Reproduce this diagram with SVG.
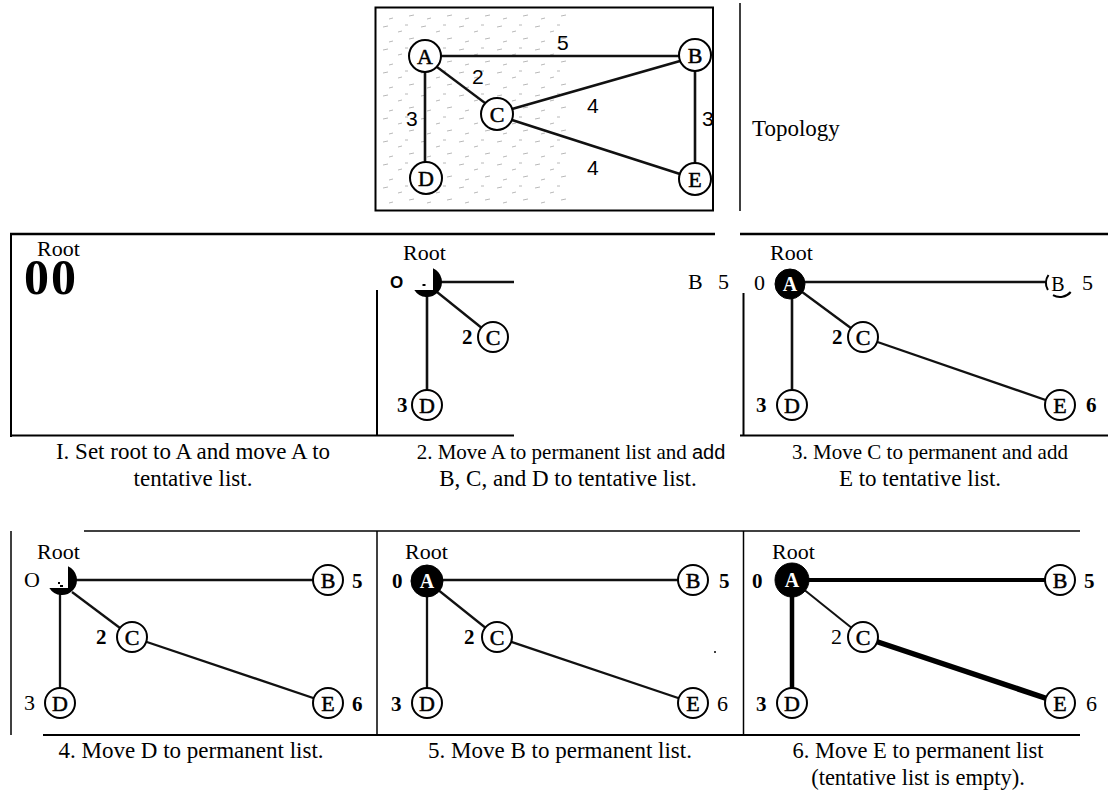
<svg xmlns="http://www.w3.org/2000/svg" width="1108" height="790" viewBox="0 0 1108 790">
<style>
.frame{stroke:#000;stroke-width:2;fill:none}
.thin{stroke:#000;stroke-width:1.5;fill:none}
.edge{stroke:#111;stroke-width:2.3;fill:none}
.thick{stroke:#000;stroke-width:4.5;fill:none}
.node circle{fill:#fff;stroke:#000;stroke-width:2}
.blk circle{fill:#000;stroke:#000;stroke-width:1}
.nl{font-family:"Liberation Serif",serif;font-size:22px;text-anchor:middle;fill:#000;stroke:#000;stroke-width:0.5}
.wl{font-family:"Liberation Serif",serif;font-size:20px;font-weight:bold;text-anchor:middle;fill:#fff}
.t{font-family:"Liberation Serif",serif;font-size:22px;fill:#000}
.cap{font-family:"Liberation Serif",serif;font-size:23px;text-anchor:middle;fill:#000}
.b{font-family:"Liberation Serif",serif;font-size:21px;font-weight:bold;fill:#000}
.r{font-family:"Liberation Serif",serif;font-size:22px;fill:#000}
.s{font-family:"Liberation Sans",sans-serif;font-size:21px;fill:#000}
</style>
<defs>
<pattern id="dust" width="38" height="23" patternUnits="userSpaceOnUse">
<g stroke="#9a9a9a" stroke-width="1">
<line x1="3" y1="4" x2="8" y2="3"/><line x1="18" y1="9" x2="22" y2="8"/><line x1="29" y1="16" x2="34" y2="15"/><line x1="9" y1="19" x2="13" y2="18"/><line x1="25" y1="2" x2="28" y2="2"/>
</g>
</pattern>
</defs>

<!-- Topology panel -->
<g id="topology-frame">
<rect x="382" y="10" width="190" height="196" fill="url(#dust)" opacity="0.7"/>
<rect x="375.5" y="7.5" width="337.5" height="203" class="frame"/>
<line x1="740" y1="3" x2="740" y2="211" class="thin"/>
<text class="t" x="752" y="136" style="font-size:23px">Topology</text>
</g>

<!-- Frames of step panels -->
<g id="frames">
<line x1="10" y1="234" x2="715" y2="234" class="frame" style="stroke-width:2.5"/>
<line x1="740" y1="234" x2="1108" y2="234" class="frame" style="stroke-width:2.5"/>
<line x1="11" y1="233" x2="11" y2="437" class="frame"/>
<line x1="10" y1="435.5" x2="514" y2="435.5" class="frame"/>
<line x1="740" y1="435.5" x2="1108" y2="435.5" class="frame"/>
<line x1="377" y1="290" x2="377" y2="436" class="frame"/>
<line x1="743.5" y1="293" x2="743.5" y2="436" class="frame"/>
<line x1="84" y1="531" x2="1080" y2="531" class="thin"/>
<line x1="11" y1="531" x2="11" y2="735" class="thin"/>
<line x1="377" y1="531" x2="377" y2="735" class="thin"/>
<line x1="743.5" y1="531" x2="743.5" y2="735" class="thin"/>
<line x1="43" y1="735" x2="1080" y2="735" class="frame"/>
</g>

<!-- Connectors -->
<g id="connectors">
<!-- topology -->
<line x1="441" y1="56" x2="679" y2="56" class="edge" style="stroke-width:2.6"/>
<line x1="437" y1="67" x2="485" y2="103" class="edge"/>
<line x1="512" y1="109" x2="680" y2="61" class="edge" style="stroke-width:2.6"/>
<line x1="512" y1="120" x2="680" y2="174" class="edge" style="stroke-width:2.6"/>
<line x1="425" y1="72" x2="425" y2="162" class="edge" style="stroke-width:2.6"/>
<line x1="695" y1="71" x2="695" y2="163" class="edge" style="stroke-width:2.6"/>
<!-- panel 2 -->
<line x1="441" y1="282" x2="514" y2="282" class="edge" style="stroke-width:2.6"/>
<line x1="437" y1="292" x2="493" y2="337" class="edge"/>
<line x1="427" y1="296" x2="427" y2="405" class="edge" style="stroke-width:2.6"/>
<!-- panel 3 -->
<line x1="800" y1="282" x2="1045" y2="282" class="edge" style="stroke-width:2.6"/>
<line x1="790" y1="283" x2="863" y2="337" class="edge"/>
<line x1="792" y1="283" x2="792" y2="405" class="edge" style="stroke-width:2.6"/>
<line x1="863" y1="337" x2="1060" y2="405" class="edge"/>
<!-- panel 4 -->
<line x1="76" y1="580" x2="328" y2="580" class="edge"/>
<line x1="72" y1="592" x2="132" y2="637" class="edge"/>
<line x1="60" y1="594" x2="60" y2="703" class="edge"/>
<line x1="132" y1="637" x2="328" y2="703" class="edge"/>
<!-- panel 5 -->
<line x1="427" y1="580" x2="693" y2="580" class="edge"/>
<line x1="427" y1="581" x2="497" y2="637" class="edge"/>
<line x1="427" y1="581" x2="427" y2="703" class="edge"/>
<line x1="497" y1="637" x2="693" y2="703" class="edge"/>
<!-- panel 6 -->
<line x1="792" y1="580" x2="1060" y2="580" class="thick" style="stroke-width:4"/>
<line x1="792" y1="580" x2="863" y2="637" class="edge" style="stroke-width:2"/>
<line x1="792" y1="580" x2="792" y2="703" class="thick"/>
<line x1="863" y1="637" x2="1060" y2="703" class="thick" style="stroke-width:5.5"/>
</g>

<!-- Topology nodes -->
<g id="topo-A" class="node"><circle cx="425" cy="56" r="16"/><text class="nl" x="425" y="64">A</text></g>
<g id="topo-B" class="node"><circle cx="695" cy="55" r="16"/><text class="nl" x="695" y="63">B</text></g>
<g id="topo-C" class="node"><circle cx="497" cy="114" r="16"/><text class="nl" x="497" y="122">C</text></g>
<g id="topo-D" class="node"><circle cx="426" cy="178" r="16"/><text class="nl" x="426" y="186">D</text></g>
<g id="topo-E" class="node"><circle cx="695" cy="179" r="16"/><text class="nl" x="695" y="187">E</text></g>
<g id="topo-labels">
<text class="s" x="557" y="50">5</text>
<text class="s" x="472" y="84">2</text>
<text class="s" x="406" y="126">3</text>
<text class="s" x="587" y="113">4</text>
<text class="s" x="702" y="126">3</text>
<text class="s" x="587" y="175">4</text>
</g>

<!-- Panel 1 -->
<g id="p1">
<text class="t" x="37" y="256">Root</text>
<text x="24" y="294" font-family="Liberation Serif,serif" font-size="50" font-weight="bold" letter-spacing="2">00</text>
<text class="cap" x="193" y="459">I. Set root to A and move A to</text>
<text class="cap" x="193" y="486">tentative list.</text>
</g>

<!-- Panel 2 -->
<g id="p2">
<text class="t" x="403" y="260">Root</text>
<text x="390" y="288" font-family="Liberation Sans,sans-serif" font-size="17" font-weight="bold">O</text>
<text class="t" x="688" y="289">B</text>
<text class="t" x="718" y="289">5</text>
<text class="b" x="462" y="344">2</text>
<text class="b" x="397" y="412">3</text>
<text class="cap" x="571" y="459" style="font-size:21px">2. Move A to permanent list and <tspan style="font-family:'Liberation Sans',sans-serif;font-size:20px">add</tspan></text>
<text class="cap" x="568" y="486">B, C, and D to tentative list.</text>
</g>
<g id="p2-A"><path d="M433,268.3 A15,15 0 1 1 414.3,290 L433,290 Z" fill="#000"/><rect x="422.5" y="284" width="3" height="2" fill="#000"/></g>
<g id="p2-C" class="node"><circle cx="493" cy="337" r="15"/><text class="nl" x="493" y="345">C</text></g>
<g id="p2-D" class="node"><circle cx="427" cy="405" r="15"/><text class="nl" x="427" y="413">D</text></g>

<!-- Panel 3 -->
<g id="p3">
<text class="t" x="770" y="260">Root</text>
<text class="r" x="754" y="290">0</text>
<text class="r" x="1082" y="290">5</text>
<text class="b" x="832" y="344">2</text>
<text class="b" x="756" y="412">3</text>
<text class="b" x="1086" y="412">6</text>
<text class="cap" x="930" y="459" style="font-size:21px">3. Move C to permanent and add</text>
<text class="cap" x="920" y="486">E to tentative list.</text>
</g>
<g id="p3-A" class="blk"><circle cx="790" cy="284" r="15"/><text class="wl" x="790" y="291">A</text></g>
<g id="p3-B"><path d="M1048.5,275 A14,14 0 0 0 1047.9,290" fill="none" stroke="#000" stroke-width="2"/><path d="M1053,295.1 A14,14 0 0 0 1070.7,292" fill="none" stroke="#000" stroke-width="2"/><text x="1058" y="291" font-family="Liberation Serif,serif" font-size="20" text-anchor="middle">B</text></g>
<g id="p3-C" class="node"><circle cx="863" cy="337" r="15"/><text class="nl" x="863" y="345">C</text></g>
<g id="p3-D" class="node"><circle cx="792" cy="405" r="15"/><text class="nl" x="792" y="413">D</text></g>
<g id="p3-E" class="node"><circle cx="1060" cy="405" r="15"/><text class="nl" x="1060" y="413">E</text></g>

<!-- Panel 4 -->
<g id="p4">
<text class="t" x="37" y="559">Root</text>
<text class="r" x="24" y="587">O</text>
<text class="b" x="352" y="588">5</text>
<text class="b" x="96" y="644">2</text>
<text class="r" x="24" y="710">3</text>
<text class="b" x="352" y="711">6</text>
<text class="cap" x="191" y="758">4. Move D to permanent list.</text>
</g>
<g id="p4-A"><path d="M68,566.3 A15,15 0 1 1 49.3,588 L68,588 Z" fill="#000"/><rect x="58" y="582" width="2" height="2" fill="#000"/><rect x="60" y="585" width="3" height="2" fill="#000"/></g>
<g id="p4-B" class="node"><circle cx="328" cy="580" r="15"/><text class="nl" x="328" y="588">B</text></g>
<g id="p4-C" class="node"><circle cx="132" cy="637" r="15"/><text class="nl" x="132" y="645">C</text></g>
<g id="p4-D" class="node"><circle cx="60" cy="703" r="15"/><text class="nl" x="60" y="711">D</text></g>
<g id="p4-E" class="node"><circle cx="328" cy="703" r="15"/><text class="nl" x="328" y="711">E</text></g>

<!-- Panel 5 -->
<g id="p5">
<text class="t" x="405" y="559">Root</text>
<text class="b" x="392" y="588">0</text>
<text class="b" x="719" y="588">5</text>
<text class="b" x="464" y="644">2</text>
<text class="b" x="391" y="711">3</text>
<text class="r" x="717" y="711">6</text>
<circle cx="715" cy="652" r="1" fill="#000"/>
<text class="cap" x="560" y="758">5. Move B to permanent list.</text>
</g>
<g id="p5-A" class="blk"><circle cx="427" cy="581" r="16"/><text class="wl" x="427" y="588">A</text></g>
<g id="p5-B" class="node"><circle cx="693" cy="580" r="15"/><text class="nl" x="693" y="588">B</text></g>
<g id="p5-C" class="node"><circle cx="497" cy="637" r="15"/><text class="nl" x="497" y="645">C</text></g>
<g id="p5-D" class="node"><circle cx="427" cy="703" r="15"/><text class="nl" x="427" y="711">D</text></g>
<g id="p5-E" class="node"><circle cx="693" cy="703" r="15"/><text class="nl" x="693" y="711">E</text></g>

<!-- Panel 6 -->
<g id="p6">
<text class="t" x="772" y="559">Root</text>
<text class="b" x="752" y="588">0</text>
<text class="b" x="1084" y="588">5</text>
<text class="r" x="831" y="644">2</text>
<text class="b" x="756" y="711">3</text>
<text class="r" x="1086" y="711">6</text>
<text class="cap" x="918" y="758" style="font-size:22.5px">6. Move E to permanent list</text>
<text class="cap" x="918" y="785" style="font-size:22.5px">(tentative list is empty).</text>
</g>
<g id="p6-A" class="blk"><circle cx="792" cy="580" r="17"/><text class="wl" x="792" y="587">A</text></g>
<g id="p6-B" class="node"><circle cx="1060" cy="580" r="15"/><text class="nl" x="1060" y="588">B</text></g>
<g id="p6-C" class="node"><circle cx="863" cy="637" r="15"/><text class="nl" x="863" y="645">C</text></g>
<g id="p6-D" class="node"><circle cx="792" cy="703" r="15"/><text class="nl" x="792" y="711">D</text></g>
<g id="p6-E" class="node"><circle cx="1060" cy="703" r="15"/><text class="nl" x="1060" y="711">E</text></g>
</svg>
